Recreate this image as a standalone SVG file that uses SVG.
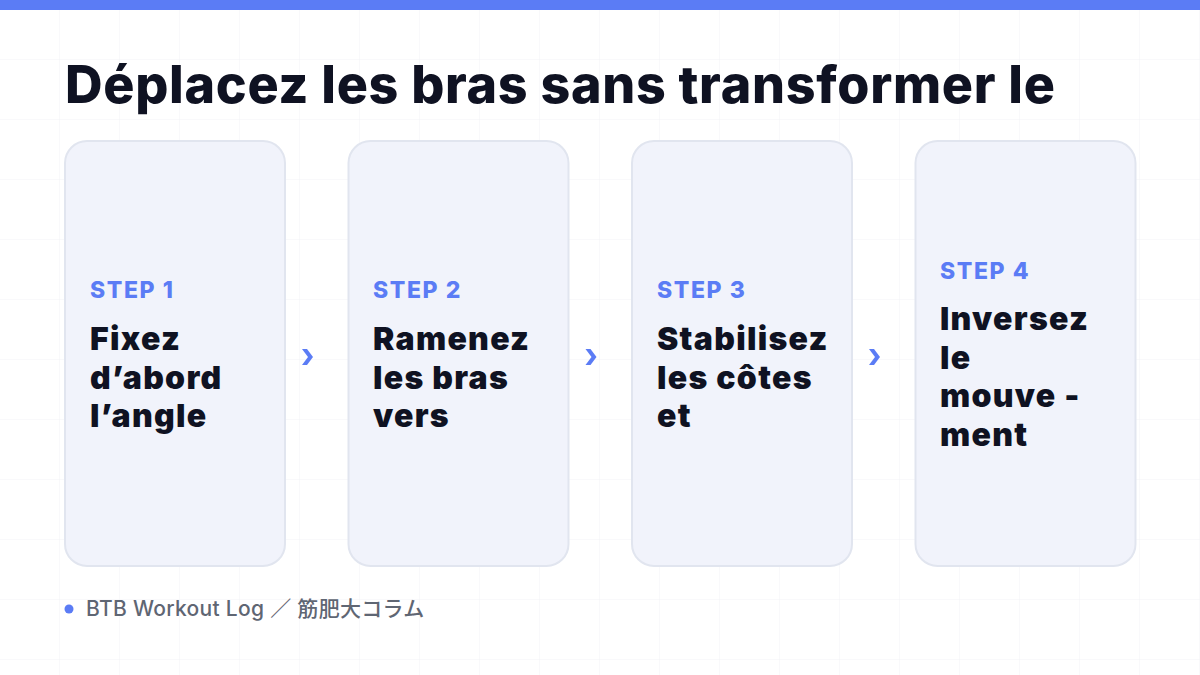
<svg xmlns="http://www.w3.org/2000/svg" width="1200" height="675" viewBox="0 0 1200 675">
  <defs>
    <pattern id="grid" width="60" height="60" patternUnits="userSpaceOnUse">
      <path d="M60 0 V60 M0 60 H60" fill="none" stroke="#f2f3f6" stroke-width="1"/>
    </pattern>
  </defs>
  <style>
    .title { font-family: Inter, "Liberation Sans", sans-serif; font-weight: 800; font-size: 52px; fill: #0f1222; }
    .card { fill: #f1f3fb; stroke: #e1e5ef; stroke-width: 2; }
    .step { font-family: Inter, "Liberation Sans", sans-serif; font-weight: 800; font-size: 23px; fill: #5b7cf5; letter-spacing: 1.6px; }
    .body { font-family: Inter, "Liberation Sans", sans-serif; font-weight: 900; font-size: 32px; fill: #0f1222; letter-spacing: 1.3px; }
    .chev { fill: #5b7cf5; }
    .foot { font-family: Inter, "Liberation Sans", "Noto Sans CJK JP", sans-serif; font-weight: 500; font-size: 21px; fill: #5f6673; letter-spacing: 0.3px; }
  </style>
  <rect x="0" y="0" width="1200" height="675" fill="#ffffff"/>
  <rect x="0" y="0" width="1200" height="675" fill="url(#grid)"/>
  <rect x="0" y="0" width="1200" height="10" fill="#5b7cf5"/>
  <text class="title" x="65" y="103" textLength="990" lengthAdjust="spacing">Déplacez les bras sans transformer le</text>

  <g id="step1">
    <rect class="card" x="65" y="141" width="220" height="425" rx="22"/>
    <text class="step" x="90" y="298">STEP 1</text>
    <text class="body" x="90" y="350">Fixez</text>
    <text class="body" x="90" y="389">d’abord</text>
    <text class="body" x="90" y="427">l’angle</text>
  </g>
  <g id="step2">
    <rect class="card" x="348.5" y="141" width="220" height="425" rx="22"/>
    <text class="step" x="373" y="298">STEP 2</text>
    <text class="body" x="373" y="350">Ramenez</text>
    <text class="body" x="373" y="389">les bras</text>
    <text class="body" x="373" y="427">vers</text>
  </g>
  <g id="step3">
    <rect class="card" x="632" y="141" width="220" height="425" rx="22"/>
    <text class="step" x="657" y="298">STEP 3</text>
    <text class="body" x="657" y="350">Stabilisez</text>
    <text class="body" x="657" y="389">les côtes</text>
    <text class="body" x="657" y="427">et</text>
  </g>
  <g id="step4">
    <rect class="card" x="915.5" y="141" width="220" height="425" rx="22"/>
    <text class="step" x="940" y="279">STEP 4</text>
    <text class="body" x="940" y="330">Inversez</text>
    <text class="body" x="940" y="369">le</text>
    <text class="body" x="940" y="407">mouve -</text>
    <text class="body" x="940" y="446">ment</text>
  </g>

  <g id="connectors">
    <path class="chev" d="M302 349 L307 349 L313 357 L307 365 L302 365 L308 357 Z"/>
    <path class="chev" d="M585.5 349 L590.5 349 L596.5 357 L590.5 365 L585.5 365 L591.5 357 Z"/>
    <path class="chev" d="M869 349 L874 349 L880 357 L874 365 L869 365 L875 357 Z"/>
  </g>

  <g id="footer">
    <circle cx="69" cy="609" r="4.5" fill="#5b7cf5"/>
    <text class="foot" x="86" y="616">BTB Workout Log ／ 筋肥大コラム</text>
  </g>
</svg>
